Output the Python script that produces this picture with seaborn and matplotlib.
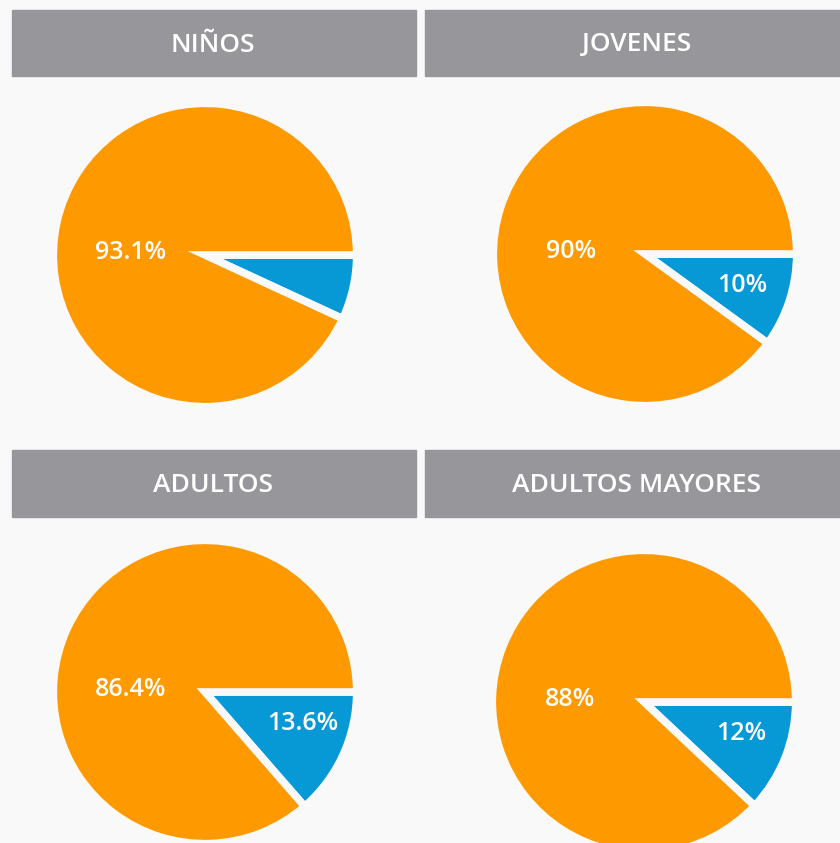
import matplotlib
matplotlib.use("Agg")
import matplotlib.pyplot as plt
import seaborn as sns
from matplotlib.patches import Rectangle

# Datos
grupos = ["NIÑOS", "JOVENES", "ADULTOS", "ADULTOS MAYORES"]
pct_naranja = [93.1, 90, 86.4, 88]
pct_azul = [6.9, 10, 13.6, 12]
etiq_naranja = ["93.1%", "90%", "86.4%", "88%"]
etiq_azul = ["", "10%", "13.6%", "12%"]

sns.set_theme(style="white")
plt.rcParams['font.family'] = ['Open Sans', 'DejaVu Sans']

naranja = "#ff9900"
azul = "#0798d6"
gris = "#97969b"
fondo = "#f9f9f9"

W, H = 840, 843
fig = plt.figure(figsize=(W / 100, H / 100), dpi=100)
fig.patch.set_facecolor(fondo)

# cabeceras (x0, y0 desde arriba, ancho, alto, centro del texto) en pixeles
cabeceras = [(12, 10, 404, 66, 213), (425, 10, 420, 66, 637),
             (12, 450, 404, 67, 213), (425, 450, 420, 67, 637)]
# centros de las tortas en pixeles desde arriba
centros = [(205, 255), (645, 254), (205, 692), (644, 702)]
radio = 148
medio = 165

for i, g in enumerate(grupos):
    x0, y0, w, h, xt = cabeceras[i]
    fig.patches.append(Rectangle((x0 / W, 1 - (y0 + h) / H), w / W, h / H,
                                 transform=fig.transFigure, color=gris, zorder=0))
    fig.text(xt / W, 1 - (y0 + h / 2 + 2) / H, g, color="white",
             fontsize=19, fontweight="semibold", ha="center", va="center")

    cx, cy = centros[i]
    ax = fig.add_axes([(cx - medio) / W, 1 - (cy + medio) / H, 2 * medio / W, 2 * medio / H])
    ax.set_facecolor("none")
    ax.pie([pct_azul[i], pct_naranja[i]], colors=[azul, naranja], startangle=0,
           counterclock=False, radius=1.025,
           wedgeprops=dict(edgecolor=fondo, linewidth=5.5, joinstyle="miter"))
    lim = medio / radio
    ax.set_xlim(-lim, lim)
    ax.set_ylim(-lim, lim)
    ax.set_aspect("equal")
    ax.axis("off")
    ax.text(-0.5, 0.02, etiq_naranja[i], color="white", fontsize=18,
            fontweight="semibold", ha="center", va="center")
    if etiq_azul[i]:
        ax.text(0.66, -0.21, etiq_azul[i], color="white", fontsize=18,
                fontweight="semibold", ha="center", va="center")

plt.savefig("out.png", dpi=100, facecolor=fondo)
